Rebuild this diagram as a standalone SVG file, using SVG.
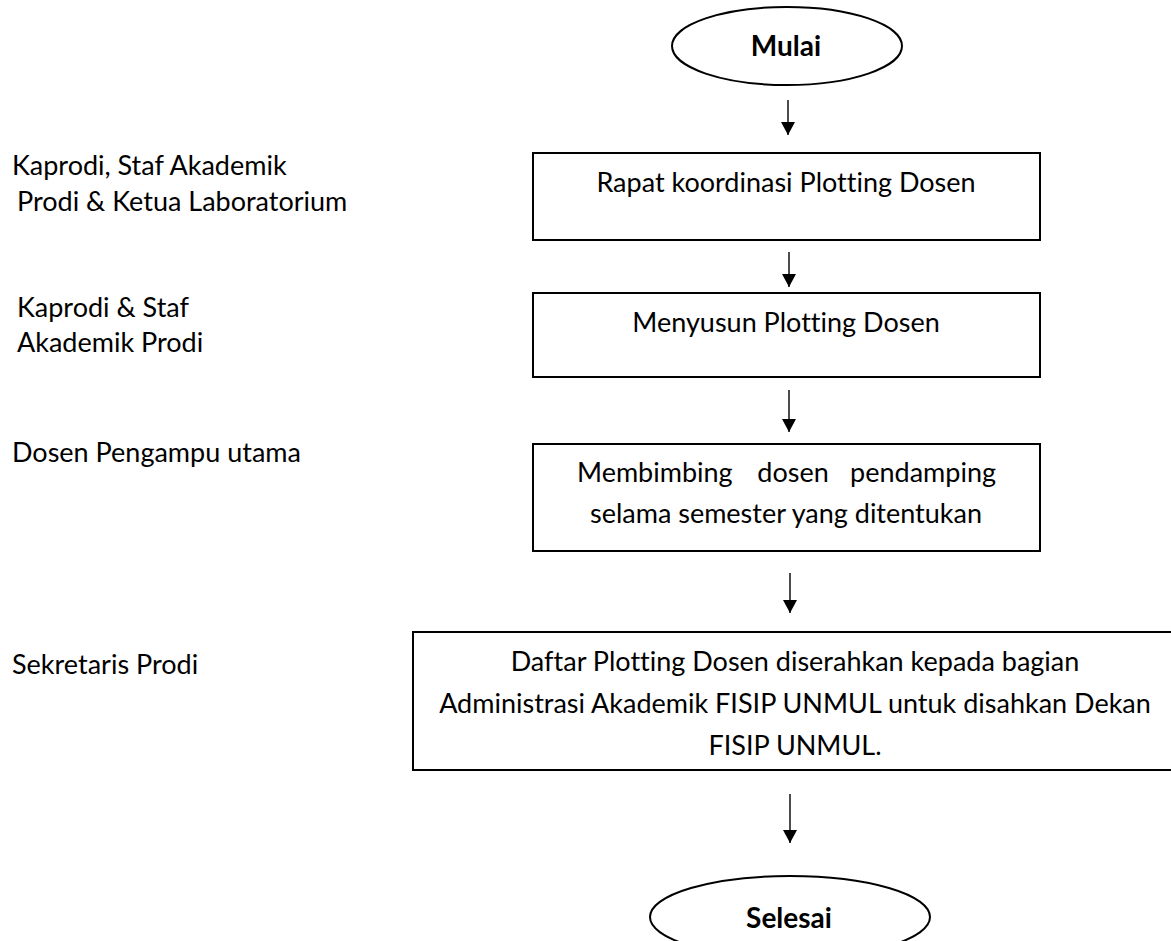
<svg xmlns="http://www.w3.org/2000/svg" width="1171" height="941" viewBox="0 0 1171 941">
<style>
text{font-family:Lato,"Liberation Sans",sans-serif;font-size:27px;fill:#000;font-variant-ligatures:none}
.c{text-anchor:middle}
.e{text-anchor:end}
.b{font-weight:bold;font-size:28px}
.box{fill:#fff;stroke:#000;stroke-width:2}
.con{stroke:#000;stroke-width:1.4;fill:none}
</style>
<defs>
<marker id="ah" viewBox="0 0 13 14" refX="13" refY="7" markerWidth="13" markerHeight="14" markerUnits="userSpaceOnUse" orient="auto">
<path d="M0,0 L13,7 L0,14 z" fill="#000"/>
</marker>
</defs>
<rect width="1171" height="941" fill="#fff"/>
<g id="lanes">
<text x="12" y="175">Kaprodi, Staf Akademik</text>
<text x="17" y="211">Prodi &amp; Ketua Laboratorium</text>
<text x="17" y="317">Kaprodi &amp; Staf</text>
<text x="17" y="352">Akademik Prodi</text>
<text x="12" y="462">Dosen Pengampu utama</text>
<text x="12" y="674">Sekretaris Prodi</text>
</g>
<g id="mulai">
<ellipse class="box" cx="787" cy="46" rx="115" ry="39"/>
<text class="c b" x="786" y="56">Mulai</text>
</g>
<g id="rapat">
<rect class="box" x="533" y="153" width="507" height="87"/>
<text class="c" x="786" y="192">Rapat koordinasi Plotting Dosen</text>
</g>
<g id="menyusun">
<rect class="box" x="533" y="293" width="507" height="84"/>
<text class="c" x="786" y="332">Menyusun Plotting Dosen</text>
</g>
<g id="membimbing">
<rect class="box" x="533" y="444" width="507" height="107"/>
<text x="577" y="482">Membimbing</text>
<text class="c" x="793" y="482">dosen</text>
<text class="e" x="996" y="482">pendamping</text>
<text class="c" x="786" y="523">selama semester yang ditentukan</text>
</g>
<g id="daftar">
<rect class="box" x="413" y="632" width="766" height="138"/>
<text class="c" x="795" y="671">Daftar Plotting Dosen diserahkan kepada bagian</text>
<text class="c" x="795" y="713">Administrasi Akademik FISIP UNMUL untuk disahkan Dekan</text>
<text class="c" x="795" y="755">FISIP UNMUL.</text>
</g>
<g id="selesai">
<ellipse class="box" cx="790" cy="917" rx="140" ry="41"/>
<text class="c b" x="789" y="928">Selesai</text>
</g>
<g id="connectors">
<line class="con" x1="788" y1="100" x2="788" y2="135" marker-end="url(#ah)"/>
<line class="con" x1="789" y1="252" x2="789" y2="287" marker-end="url(#ah)"/>
<line class="con" x1="789" y1="390" x2="789" y2="432" marker-end="url(#ah)"/>
<line class="con" x1="790" y1="573" x2="790" y2="613" marker-end="url(#ah)"/>
<line class="con" x1="790" y1="794" x2="790" y2="843" marker-end="url(#ah)"/>
</g>
</svg>
